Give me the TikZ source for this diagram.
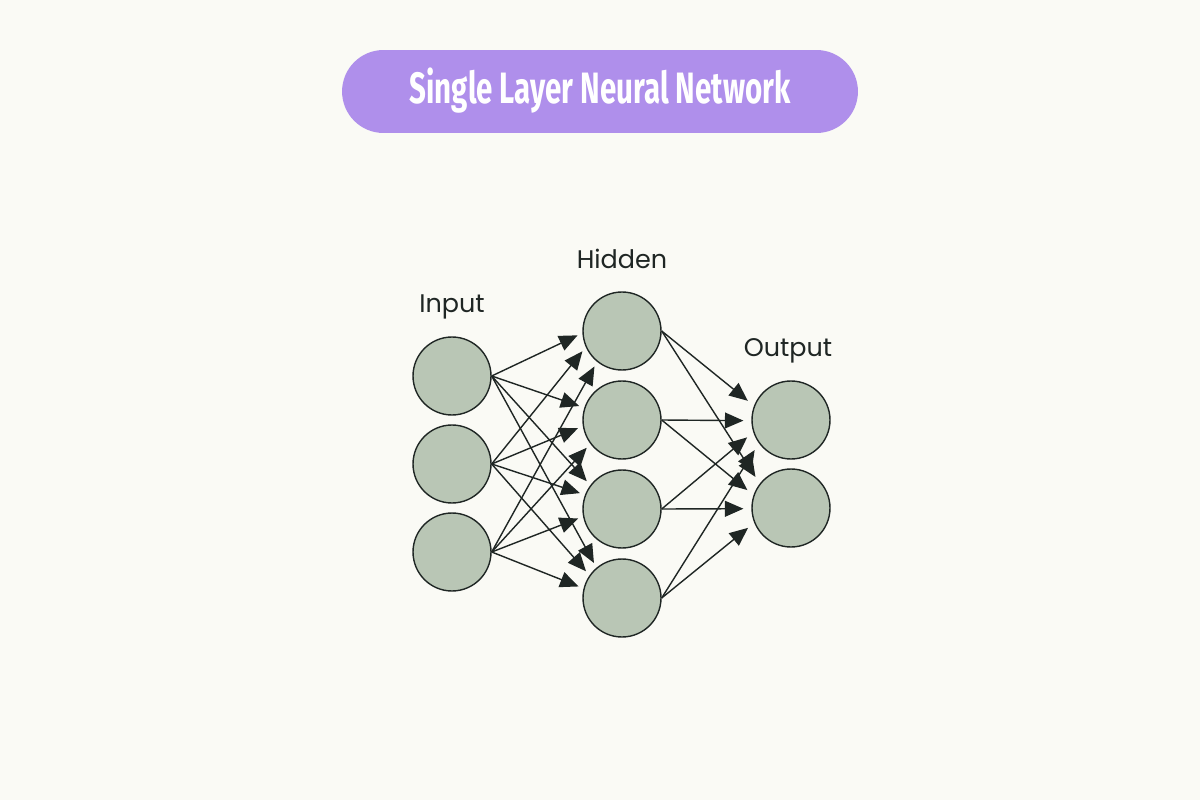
\documentclass[tikz,border=0pt]{standalone}
\usepackage{fontspec}
\setmainfont{Fira Sans}
\newfontfamily\labelfont{Poppins}
\usetikzlibrary{arrows.meta}
\definecolor{bg}{HTML}{FAFAF5}
\definecolor{pill}{HTML}{AF8FEB}
\definecolor{neuron}{HTML}{B9C6B5}
\definecolor{ink}{HTML}{1F2624}
\tikzset{
  neuronnode/.style={circle, draw=ink, line width=0.8pt, fill=neuron, minimum size=1.56cm, inner sep=0pt},
  layerlabel/.style={font=\labelfont\fontsize{14.5}{16}\selectfont, text=ink, inner sep=0pt},
  conn/.style={draw=ink, line width=0.8pt, -{Triangle[length=10.5pt,width=9pt]}, shorten >=3pt},
}
\begin{document}
\begin{tikzpicture}[x=0.02cm, y=-0.02cm]
\fill[bg] (0,0) rectangle (1200,800);
\useasboundingbox (0,0) rectangle (1200,800);
\node[fill=pill, rounded corners=0.83cm, minimum width=10.32cm, minimum height=1.66cm, inner sep=0pt] (title) at (600,91.5) {};
\node[text=white, inner sep=0pt, anchor=base] (titletext) at (600,104) {\resizebox{7.62cm}{\height}{\fontsize{25}{28}\selectfont\bfseries Single Layer Neural Network}};

\node[neuronnode] (i1) at (452,376) {};
\node[neuronnode] (i2) at (452,464) {};
\node[neuronnode] (i3) at (452,552) {};
\node[neuronnode] (h1) at (622,331) {};
\node[neuronnode] (h2) at (622,420) {};
\node[neuronnode] (h3) at (622,509) {};
\node[neuronnode] (h4) at (622,598) {};
\node[neuronnode] (o1) at (791,420) {};
\node[neuronnode] (o2) at (791,508) {};

\node[layerlabel, anchor=base] (linput) at (452,313) {Input};
\node[layerlabel, anchor=base] (lhidden) at (622,269) {Hidden};
\node[layerlabel, anchor=base] (loutput) at (788,357) {Output};

% input -> hidden
\foreach \s/\t/\a in {i1/h1/183, i2/h1/204, i3/h1/231,
                      i1/h2/162, i2/h2/189, i3/h2/217,
                      i1/h3/143, i2/h3/159, i3/h3/191,
                      i1/h4/130, i2/h4/145, i3/h4/166}{
  \draw[conn] (\s.east) -- (\t.\a);
}
% hidden -> output
\foreach \s/\t/\a in {h1/o1/159, h2/o1/181, h3/o1/198, h4/o1/216,
                      h1/o2/142, h2/o2/161, h3/o2/181, h4/o2/202}{
  \draw[conn, shorten >=4.5pt] (\s.east) -- (\t.\a);
}
\end{tikzpicture}
\end{document}
